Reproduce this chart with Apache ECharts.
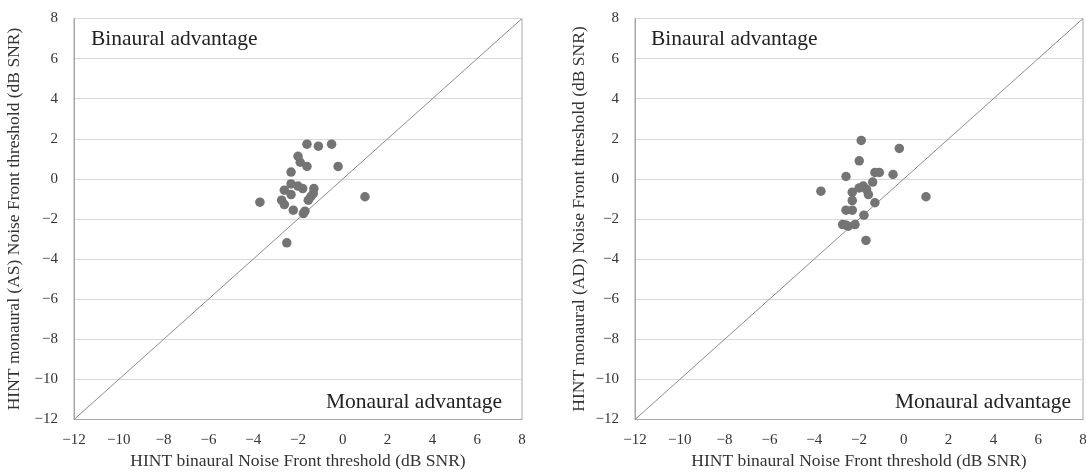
<!DOCTYPE html>
<html>
<head>
<meta charset="utf-8">
<script src="https://cdn.jsdelivr.net/npm/echarts@6/dist/echarts.min.js"></script>
<style>html,body{margin:0;padding:0;background:#fff}#c{width:1086px;height:472px}</style>
</head>
<body>
<div id="c"></div>
<script>
// Axis range and ticks
const axisMin = -12;
const axisMax = 8;
const tickStep = 2;

// Left panel: HINT binaural (x) vs HINT monaural AS (y)
const asX = [-1.60,-1.09,-0.50,-2.00,-1.90,-1.60,-0.21,-2.31,-2.31,-2.00,-1.79,-2.61,-2.31,-1.29,-1.32,-1.43,-1.54,-2.73,-2.61,-3.70,0.99,-2.21,-1.76,-1.69,-2.50];
const asY = [1.73,1.63,1.73,1.13,0.83,0.62,0.62,0.34,-0.25,-0.36,-0.48,-0.56,-0.78,-0.48,-0.73,-0.89,-1.06,-1.06,-1.28,-1.16,-0.89,-1.56,-1.73,-1.61,-3.19];

// Right panel: HINT binaural (x) vs HINT monaural AD (y)
const adX = [-1.90,-0.20,-1.99,-2.58,-1.29,-1.09,-0.48,-1.39,-3.70,-1.99,-1.81,-1.66,-1.58,-2.30,-2.30,-1.29,0.99,-2.58,-2.30,-1.78,-2.73,-2.48,-2.18,-1.69,-2.60];
const adY = [1.92,1.52,0.90,0.12,0.32,0.32,0.22,-0.16,-0.61,-0.45,-0.36,-0.53,-0.78,-0.66,-1.08,-1.19,-0.89,-1.56,-1.56,-1.81,-2.28,-2.36,-2.28,-3.07,-2.30];

const xName = 'HINT binaural Noise Front threshold (dB SNR)';
const yNames = ['HINT monaural (AS) Noise Front threshold (dB SNR)', 'HINT monaural (AD) Noise Front threshold (dB SNR)'];
const cornerLabels = ['Binaural advantage', 'Monaural advantage'];

const FONT = '"Liberation Serif", "DejaVu Serif", serif';
const fmt = v => String(v).replace('-', '\u2212');

function pairs(xs, ys){ return xs.map((x,i)=>[x, ys[i]]); }

const grids = [
  {left:74, right:564, top:18.5, bottom:52.5, show:true, borderColor:'#a6a6a6', borderWidth:1, backgroundColor:'transparent', containLabel:false, outerBoundsMode:'none'},
  {left:635, right:3, top:18.5, bottom:52.5, show:true, borderColor:'#a6a6a6', borderWidth:1, backgroundColor:'transparent', containLabel:false, outerBoundsMode:'none'}
];

function xAxis(i){
  return {
    type:'value', gridIndex:i, min:axisMin, max:axisMax, interval:tickStep,
    name:xName, nameLocation:'middle', nameGap:33,
    nameTextStyle:{fontFamily:FONT, fontSize:17.5, color:'#333'},
    axisLine:{show:true, onZero:false, lineStyle:{color:'#a6a6a6'}},
    axisTick:{show:false},
    splitLine:{show:false},
    axisLabel:{fontFamily:FONT, fontSize:15, color:'#333', margin:13, formatter:fmt}
  };
}
function yAxis(i){
  return {
    type:'value', gridIndex:i, min:axisMin, max:axisMax, interval:tickStep,
    name:yNames[i], nameLocation:'middle', nameGap: i===0 ? 51 : 47,
    nameTextStyle:{fontFamily:FONT, fontSize:17.5, color:'#333'},
    axisLine:{show:true, onZero:false, lineStyle:{color:'#a6a6a6'}},
    axisTick:{show:false},
    splitLine:{show:true, lineStyle:{color:'#d9d9d9', width:1}},
    axisLabel:{fontFamily:FONT, fontSize:15, color:'#333', margin:16, formatter:fmt}
  };
}

function diag(i){
  return {type:'line', xAxisIndex:i, yAxisIndex:i, data:[[axisMin,axisMin],[axisMax,axisMax]],
    symbol:'none', silent:true, lineStyle:{color:'#8c8c8c', width:1}, z:1};
}
function scat(i, data){
  return {type:'scatter', xAxisIndex:i, yAxisIndex:i, data:data, symbolSize:9.5,
    itemStyle:{color:'#747474', opacity:1}, z:3};
}

const chart = echarts.init(document.getElementById('c'), null, {renderer:'canvas'});
chart.setOption({
  animation:false,
  grid:grids,
  xAxis:[xAxis(0), xAxis(1)],
  yAxis:[yAxis(0), yAxis(1)],
  series:[diag(0), scat(0, pairs(asX, asY)), diag(1), scat(1, pairs(adX, adY))],
  graphic:[
    {type:'text', left:91, top:28, style:{text:cornerLabels[0], font:'21.5px '+FONT, fill:'#222'}},
    {type:'text', right:1086-502, top:391, style:{text:cornerLabels[1], font:'21.5px '+FONT, fill:'#222'}},
    {type:'text', left:651, top:28, style:{text:cornerLabels[0], font:'21.5px '+FONT, fill:'#222'}},
    {type:'text', right:1086-1071, top:391, style:{text:cornerLabels[1], font:'21.5px '+FONT, fill:'#222'}}
  ]
});
</script>
</body>
</html>
